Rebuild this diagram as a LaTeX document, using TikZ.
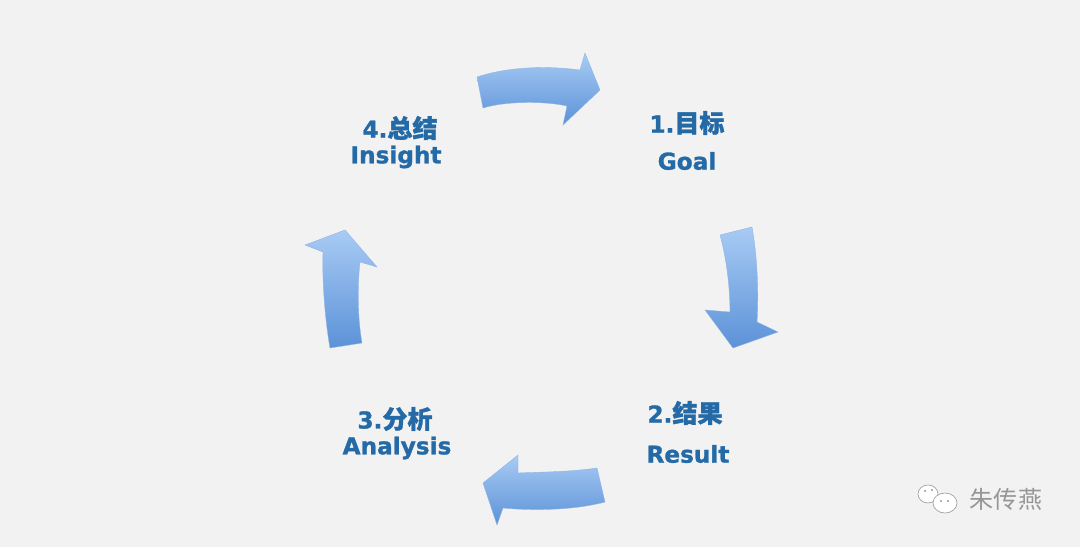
\documentclass[tikz,border=0pt]{standalone}
\usepackage{fontspec}
\setmainfont{DejaVu Sans}[BoldFeatures={FakeBold=1.2}]
\newfontfamily\cjk{Noto Sans CJK SC}[Scale=1.08,BoldFeatures={FakeBold=1.2}]
\newfontfamily\wmfont{Noto Sans CJK SC}
\definecolor{bg}{RGB}{242,242,243}
\definecolor{txtblue}{RGB}{36,106,166}
\definecolor{arrlight}{RGB}{168,203,244}
\definecolor{arrdark}{RGB}{92,146,216}
\definecolor{wmgray}{RGB}{150,150,150}

\begin{document}
\begin{tikzpicture}[x=0.03cm,y=-0.03cm,
    blk/.style={top color=arrlight,bottom color=arrdark,draw=arrdark!70,line width=0.3pt},
    lbl/.style={text=txtblue,font=\fontsize{19.8}{23}\selectfont\bfseries}]
        \fill[bg] (0,0) rectangle (1080,547);
        \useasboundingbox (0,0) rectangle (1080,547);
        % top arrow
        \shade[blk] (477,77) .. controls (510,66) and (550,66) .. (580,70) -- (585,53) -- (600,90) -- (563,125) -- (567,106) .. controls (545,101) and (505,101) .. (483,108) -- cycle;
        % right arrow
        \shade[blk] (720,235) .. controls (727,260) and (730,290) .. (730,312) -- (705,310) -- (733,348) -- (778,332) -- (757,322) .. controls (759,290) and (757,255) .. (752,227) -- cycle;
        % bottom arrow
        \shade[blk] (597,468) .. controls (570,472) and (540,472) .. (518,473) -- (518,455) -- (483,483) -- (497,525) -- (503,508) .. controls (535,511) and (575,510) .. (605,502) -- cycle;
        % left arrow
        \shade[blk] (330,348) .. controls (325,320) and (322,280) .. (323,252) -- (305,245) -- (345,230) -- (377,267) -- (360,262) .. controls (357,290) and (358,320) .. (362,343) -- cycle;
        % labels
        \node[lbl] (goalcn) at (687,123) {1.{\cjk 目标}};
        \node[lbl] (goalen) at (687,161) {Goal};
        \node[lbl] (resultcn) at (685,413) {2.{\cjk 结果}};
        \node[lbl] (resulten) at (688,454) {Result};
        \node[lbl] (analysiscn) at (395,419) {3.{\cjk 分析}};
        \node[lbl] (analysisen) at (397,448) {Analysis};
        \node[lbl] (insightcn) at (400,128) {4.{\cjk 总结}};
        \node[lbl] (insighten) at (396,157) {Insight};
        % watermark
        \draw[wmgray,fill=white,line width=0.5pt] (928,494) ellipse (10 and 9);
        \draw[wmgray,fill=white,line width=0.5pt] (945,503) ellipse (12 and 10);
        \fill[wmgray] (925,491) circle (1.2) (932,490) circle (1.2) (941,501) circle (1.2) (948,501) circle (1.2);
        \node[text=wmgray,font=\wmfont\fontsize{20.5}{24}\selectfont] (wmtext) at (1006,499) {朱传燕};
    \end{tikzpicture}
\end{document}
